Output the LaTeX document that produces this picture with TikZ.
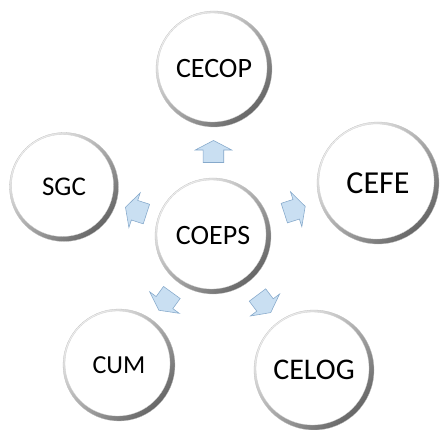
\documentclass[tikz,border=0pt]{standalone}
\usepackage{fontspec}
\setmainfont{Carlito}
\usetikzlibrary{calc,shapes.arrows}
\definecolor{arrowfill}{HTML}{C9DFF2}
\definecolor{arrowline}{HTML}{86A9CB}
\tikzset{
	bubble/.style={circle, minimum size=#1, inner sep=0pt, draw=black!25, line width=0.1mm,
		left color=black!5, right color=black!60, shading angle=45,
		path picture={\fill[white, draw=black!20, line width=0.1mm] ($(path picture bounding box.center)+(-1.5pt,1.5pt)$) circle (#1/2-3.5pt);}},
	blockarrow/.style={single arrow, draw=arrowline, fill=arrowfill, line width=0.2mm,
		minimum height=22pt, inner xsep=0pt, inner ysep=10pt,
		single arrow head extend=8pt, single arrow tip angle=125, rotate=#1}
}

\begin{document}
\begin{tikzpicture}[x=1pt, y=-1pt]
			%%%%% START %%%%%
			
			\useasboundingbox (0, 0) rectangle (441, 430);
			
			\node[bubble=116pt, font=\fontsize{28}{32}\selectfont] (coeps) at (213, 236) {COEPS};
			\node[bubble=116pt, font=\fontsize{28}{32}\selectfont] (cecop) at (214, 69) {CECOP};
			\node[bubble=109pt, font=\fontsize{27}{31}\selectfont] (sgc) at (64, 187) {SGC};
			\node[bubble=122pt, font=\fontsize{32}{36}\selectfont] (cefe) at (378, 183) {CEFE};
			\node[bubble=112pt, font=\fontsize{26}{30}\selectfont] (cum) at (119, 365) {CUM};
			\node[bubble=120pt, font=\fontsize{30}{34}\selectfont] (celog) at (314, 370) {CELOG};
			
			\node[blockarrow=90] (up) at ($(coeps)!0.49!(cecop)$) {};
			\node[blockarrow=162] (left) at ($(coeps)!0.5!(sgc)$) {};
			\node[blockarrow=18] (right) at ($(coeps)!0.48!(cefe)$) {};
			\node[blockarrow=234] (downleft) at ($(coeps)!0.49!(cum)$) {};
			\node[blockarrow=-53] (downright) at ($(coeps)!0.49!(celog)$) {};
			
			%%%%% END %%%%%
\end{tikzpicture}
\end{document}
